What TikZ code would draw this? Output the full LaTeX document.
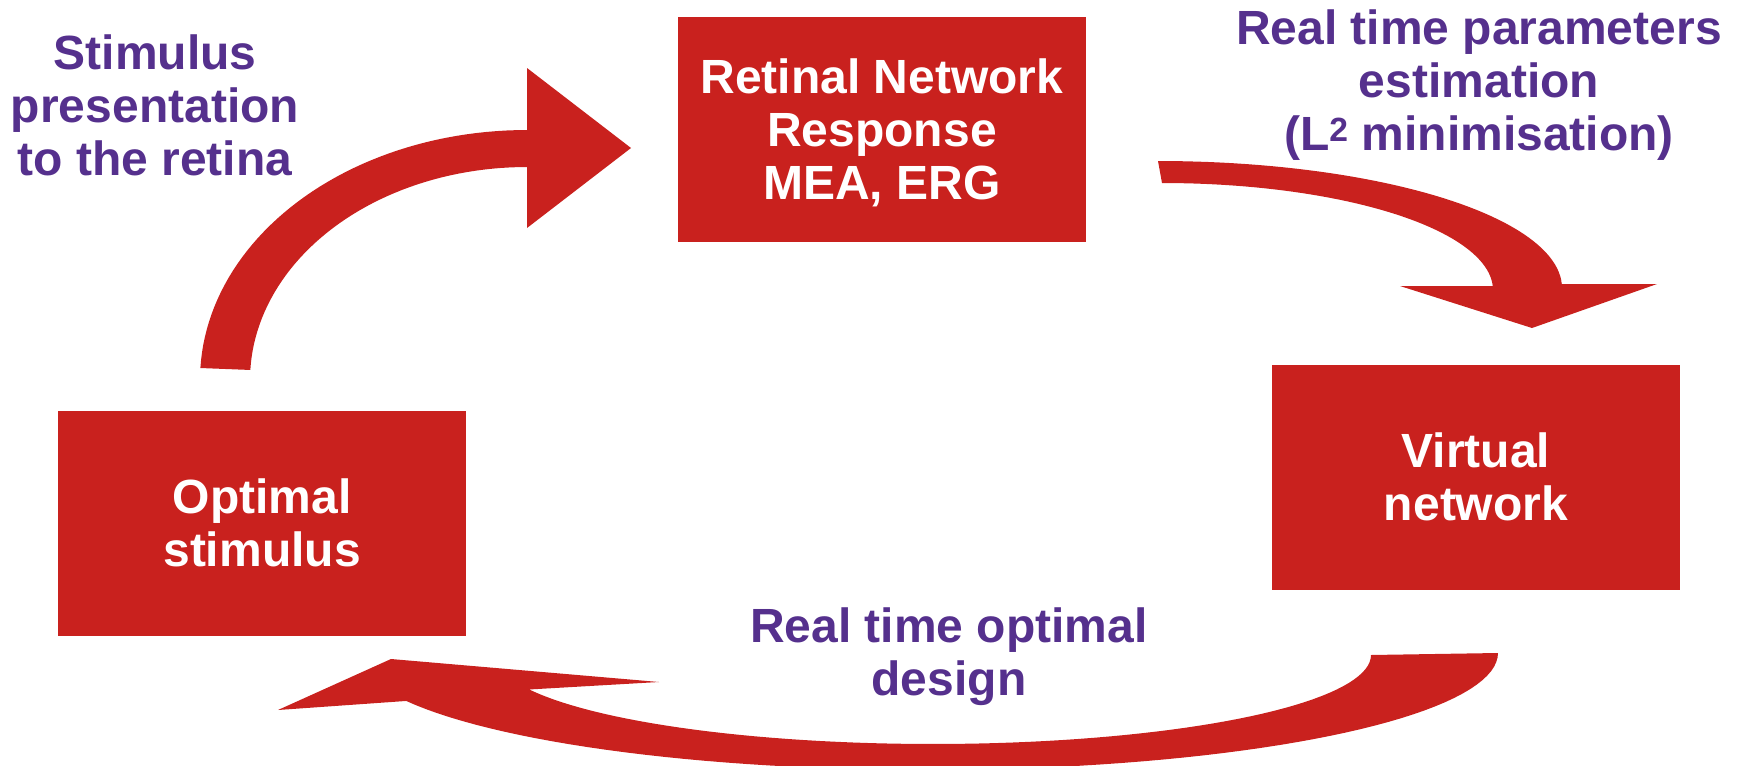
\documentclass[tikz,border=0pt]{standalone}
\usepackage{fontspec}
\setmainfont{Liberation Sans}
\definecolor{boxred}{HTML}{C9211E}
\definecolor{txtpurple}{HTML}{55308D}
\begin{document}
\begin{tikzpicture}[x=1pt,y=-1pt,
  box/.style={fill=boxred,text=white,font=\bfseries\fontsize{48}{53}\selectfont,align=center,minimum width=408pt,minimum height=225pt,inner sep=0pt},
  lbl/.style={text=txtpurple,font=\bfseries\fontsize{48}{53}\selectfont,align=center,inner sep=0pt},
  arrowshape/.style={fill=boxred}]
\useasboundingbox (0,0) rectangle (1741,766);
\clip (0,0) rectangle (1741,766);
% top-left curved arrow
\fill[arrowshape] plot[domain=182.75:270,samples=50] ({527+327*cos(\x)},{380+250*sin(\x)})
  -- (527,68) -- (631,148) -- (527,228) -- (527,167)
  -- plot[domain=270:182.7,samples=50] ({527+277*cos(\x)},{380+213*sin(\x)}) -- cycle;
% top-right curved arrow
\fill[arrowshape] plot[domain=270:358.2,samples=50] ({1158+404*cos(\x)},{288+127*sin(\x)})
  -- (1657,284) -- (1532,328) -- (1400,286)
  -- plot[domain=357.9:270,samples=50] ({1162+331*cos(\x)},{290+107*sin(\x)}) -- cycle;
% bottom curved arrow
\fill[arrowshape] (278,710) -- (391,659) -- (659,682)
  -- plot[domain=157.2:0,samples=70] ({933+438*cos(\x)},{655+89*sin(\x)})
  -- plot[domain=0:155.8,samples=70] ({927+571*cos(\x)},{653+117*sin(\x)}) -- cycle;
% boxes
\node[box] (ret) at (882,129.5) {};
\node[lbl,text=white] (rettxt) at (882,132.5) {Retinal Network\\Response\\MEA, ERG};
\node[box] (virt) at (1476,477) {Virtual\\network};
\node[box] (opt) at (262,523) {Optimal\\stimulus};
% labels
\node[lbl] (stim) at (155,105) {Stimulus\\presentation\\to the retina};
\node[lbl] (est) at (1479,85.5) {Real time parameters\\estimation\\(L\textsuperscript{2} minimisation)};
\node[lbl] (des) at (949,656.8) {Real time optimal\\design};
\end{tikzpicture}
\end{document}
